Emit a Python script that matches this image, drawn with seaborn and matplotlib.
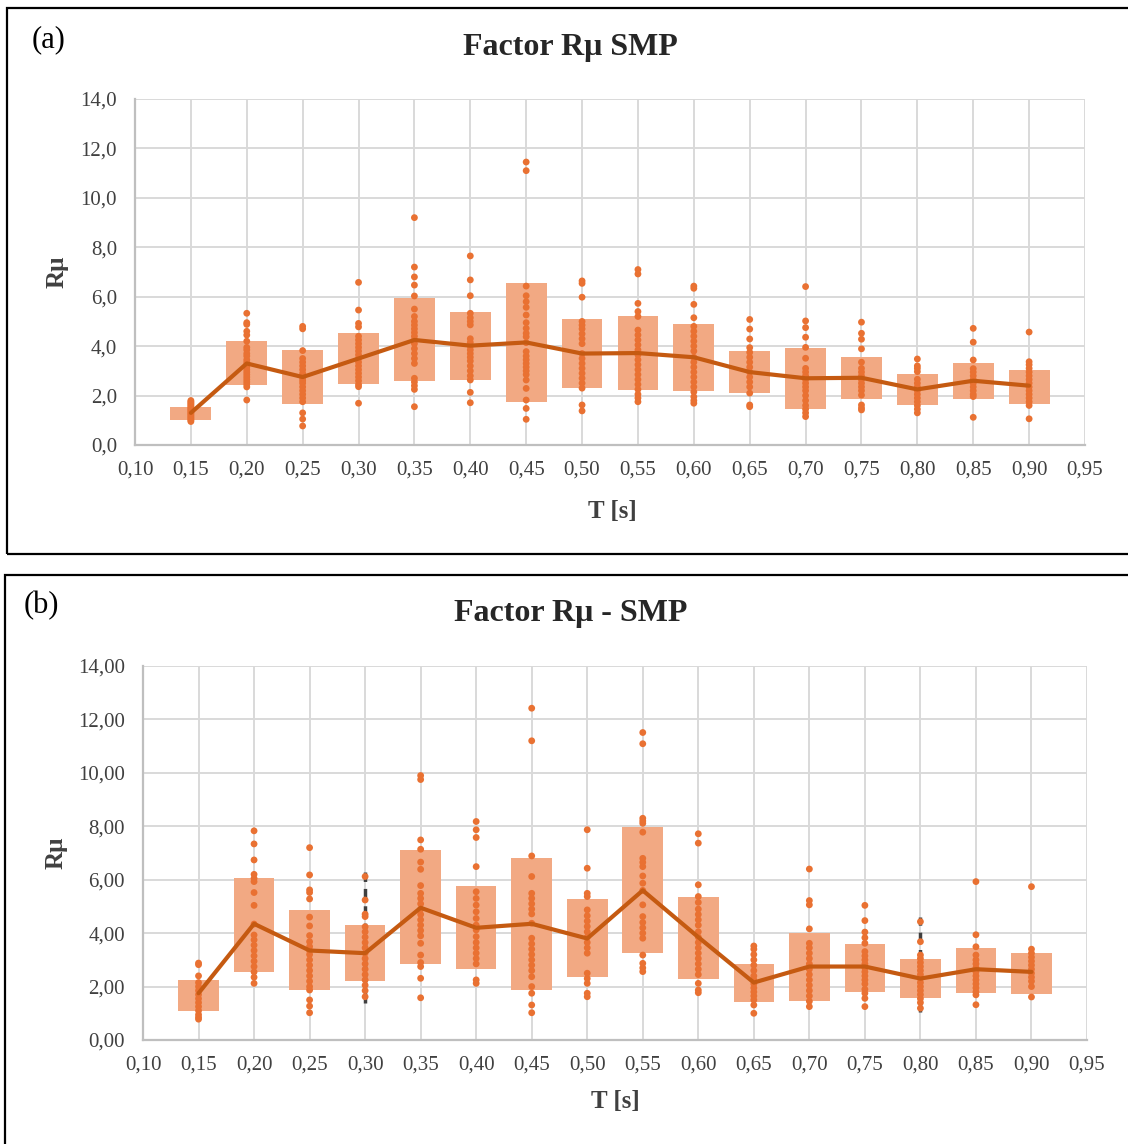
import numpy as np
import pandas as pd
import matplotlib
matplotlib.use("Agg")
import matplotlib.pyplot as plt
from matplotlib.patches import Rectangle
from matplotlib.ticker import FuncFormatter, MultipleLocator
import seaborn as sns

# DATA
T = [0.15, 0.20, 0.25, 0.30, 0.35, 0.40, 0.45, 0.50,
     0.55, 0.60, 0.65, 0.70, 0.75, 0.80, 0.85, 0.90]

# panel (a): mean line and box limits (mean -/+ std)
mean_a = [1.30, 3.30, 2.75, 3.50, 4.25, 4.02, 4.15, 3.70,
          3.72, 3.55, 2.95, 2.70, 2.72, 2.25, 2.60, 2.40]
lo_a = [1.01, 2.43, 1.66, 2.47, 2.60, 2.63, 1.74, 2.30,
        2.22, 2.20, 2.10, 1.46, 1.86, 1.60, 1.86, 1.66]
hi_a = [1.54, 4.20, 3.84, 4.53, 5.95, 5.38, 6.56, 5.10,
        5.22, 4.90, 3.80, 3.93, 3.56, 2.87, 3.32, 3.04]
points_a = [
    [1.80, 1.75, 1.70, 1.65, 1.60, 1.55, 1.50, 1.45, 1.40, 1.35, 1.30, 1.25, 1.20, 1.15, 1.10, 1.05, 1.00, 0.95],
    [5.33, 4.95, 4.88, 4.60, 4.45, 4.20, 3.95, 3.85, 3.70, 3.60, 3.45, 3.35, 3.25, 3.15, 3.05, 2.95, 2.85, 2.75, 2.65, 2.55, 2.45, 2.35, 1.82],
    [4.80, 4.70, 3.82, 3.50, 3.35, 3.20, 3.05, 2.90, 2.80, 2.70, 2.60, 2.50, 2.35, 2.20, 2.05, 1.90, 1.75, 1.30, 1.05, 0.77],
    [6.58, 5.46, 4.92, 4.78, 4.40, 4.25, 4.10, 3.95, 3.80, 3.65, 3.50, 3.35, 3.20, 3.05, 2.90, 2.75, 2.60, 2.45, 2.36, 1.69],
    [9.20, 7.20, 6.80, 6.47, 6.03, 5.50, 5.20, 5.00, 4.85, 4.70, 4.55, 4.40, 4.25, 4.10, 3.90, 3.70, 3.50, 3.30, 2.70, 2.55, 2.40, 2.25, 1.55],
    [7.65, 6.68, 6.04, 5.33, 5.15, 5.00, 4.86, 4.30, 4.15, 4.00, 3.85, 3.70, 3.55, 3.40, 3.20, 3.00, 2.80, 2.63, 2.13, 1.71],
    [11.45, 11.10, 6.43, 6.04, 5.80, 5.57, 5.26, 4.95, 4.72, 4.52, 4.38, 4.14, 3.78, 3.60, 3.45, 3.30, 3.15, 3.00, 2.85, 2.63, 2.29, 1.82, 1.48, 1.04],
    [6.64, 6.54, 5.98, 5.00, 4.85, 4.70, 4.50, 4.30, 4.10, 3.70, 3.50, 3.30, 3.10, 2.90, 2.70, 2.50, 2.30, 1.62, 1.38],
    [7.10, 6.92, 5.73, 5.40, 5.20, 4.65, 4.45, 4.25, 4.05, 3.85, 3.65, 3.45, 3.25, 3.05, 2.85, 2.65, 2.45, 2.25, 2.05, 1.90, 1.75],
    [6.43, 6.34, 5.69, 5.15, 4.80, 4.60, 4.40, 4.20, 4.00, 3.80, 3.55, 3.35, 3.15, 2.95, 2.75, 2.55, 2.35, 2.15, 1.95, 1.80, 1.69],
    [5.08, 4.69, 4.29, 3.94, 3.75, 3.55, 3.35, 3.15, 2.95, 2.75, 2.55, 2.35, 2.10, 1.62, 1.55],
    [6.41, 5.02, 4.75, 4.36, 3.95, 3.51, 3.10, 2.95, 2.80, 2.65, 2.50, 2.35, 2.20, 2.00, 1.80, 1.60, 1.45, 1.30, 1.15],
    [4.97, 4.52, 4.28, 3.89, 3.35, 3.10, 2.95, 2.80, 2.65, 2.50, 2.35, 2.20, 2.02, 1.62, 1.50, 1.42],
    [3.48, 3.20, 3.10, 2.97, 2.66, 2.50, 2.35, 2.20, 2.05, 1.90, 1.75, 1.60, 1.45, 1.30],
    [4.72, 4.16, 3.44, 3.09, 2.95, 2.80, 2.65, 2.50, 2.35, 2.20, 2.05, 1.96, 1.12],
    [4.57, 3.37, 3.25, 3.10, 2.95, 2.80, 2.65, 2.50, 2.35, 2.20, 2.05, 1.90, 1.75, 1.60, 1.06],
]

# panel (b)
mean_b = [1.75, 4.35, 3.35, 3.25, 4.95, 4.20, 4.35, 3.80,
          5.60, 3.85, 2.15, 2.75, 2.75, 2.30, 2.65, 2.55]
lo_b = [1.08, 2.54, 1.87, 2.20, 2.84, 2.65, 1.87, 2.35,
        3.25, 2.28, 1.42, 1.46, 1.79, 1.57, 1.75, 1.72]
hi_b = [2.24, 6.08, 4.85, 4.29, 7.13, 5.75, 6.83, 5.26,
        7.98, 5.37, 2.84, 4.00, 3.58, 3.02, 3.43, 3.25]
points_b = [
    [2.88, 2.82, 2.40, 2.15, 2.00, 1.85, 1.70, 1.55, 1.40, 1.25, 1.10, 0.95, 0.85, 0.78],
    [7.83, 7.34, 6.74, 6.20, 6.05, 5.93, 5.52, 5.04, 4.34, 3.93, 3.75, 3.55, 3.35, 3.15, 2.95, 2.75, 2.55, 2.35, 2.12],
    [7.20, 6.18, 5.62, 5.52, 5.28, 4.60, 4.27, 3.91, 3.68, 3.50, 3.35, 3.20, 3.00, 2.80, 2.60, 2.40, 2.20, 2.00, 1.87, 1.50, 1.27, 1.02],
    [6.12, 5.24, 4.71, 4.62, 4.24, 4.05, 3.85, 3.65, 3.45, 3.25, 3.05, 2.85, 2.65, 2.45, 2.25, 2.05, 1.85, 1.62],
    [9.90, 9.75, 7.49, 7.14, 6.66, 6.39, 5.78, 5.49, 5.30, 5.10, 4.90, 4.70, 4.50, 4.30, 4.10, 3.90, 3.62, 3.18, 2.90, 2.75, 2.31, 1.58],
    [8.18, 7.87, 7.58, 6.49, 5.55, 5.30, 5.05, 4.80, 4.55, 4.30, 4.12, 3.87, 3.65, 3.45, 3.25, 3.05, 2.85, 2.25, 2.12],
    [12.42, 11.20, 6.89, 6.12, 5.49, 5.30, 5.10, 4.90, 4.72, 4.37, 3.81, 3.60, 3.40, 3.20, 3.00, 2.80, 2.60, 2.37, 2.00, 1.75, 1.31, 1.02],
    [7.87, 6.43, 5.49, 5.37, 4.87, 4.65, 4.45, 4.25, 4.05, 3.85, 3.65, 3.45, 3.25, 2.50, 2.30, 2.12, 1.75, 1.62],
    [11.51, 11.09, 8.30, 8.20, 8.11, 7.78, 6.80, 6.65, 6.49, 6.14, 5.87, 5.60, 5.06, 4.62, 4.40, 4.20, 4.00, 3.81, 3.18, 2.87, 2.70, 2.56],
    [7.72, 7.37, 5.81, 5.37, 5.15, 4.90, 4.70, 4.50, 4.30, 4.05, 3.85, 3.65, 3.45, 3.25, 3.05, 2.85, 2.65, 2.45, 2.12, 1.87, 1.77],
    [3.52, 3.40, 3.20, 3.00, 2.80, 2.60, 2.40, 2.25, 2.10, 1.95, 1.80, 1.65, 1.50, 1.31, 1.00],
    [6.40, 5.22, 5.06, 4.16, 3.62, 3.45, 3.25, 3.05, 2.85, 2.65, 2.45, 2.25, 2.05, 1.85, 1.65, 1.45, 1.25],
    [5.04, 4.47, 4.04, 3.83, 3.62, 3.31, 3.15, 3.00, 2.85, 2.70, 2.55, 2.40, 2.25, 2.10, 1.90, 1.75, 1.56, 1.25],
    [4.43, 3.68, 3.18, 3.05, 2.90, 2.75, 2.60, 2.45, 2.30, 2.15, 2.00, 1.85, 1.70, 1.55, 1.40, 1.19],
    [5.93, 3.94, 3.49, 3.18, 3.00, 2.85, 2.70, 2.55, 2.40, 2.25, 2.10, 1.95, 1.80, 1.69, 1.32],
    [5.74, 3.40, 3.25, 3.10, 2.95, 2.80, 2.65, 2.50, 2.35, 2.20, 2.00, 1.61],
]
# dark dashed whiskers visible in panel (b)
err_b_T = [0.30, 0.80]
err_b_lo = [1.37, 1.06]
err_b_hi = [6.30, 4.62]

BOX_COLOR = "#F2A983"
DOT_COLOR = "#E97132"
LINE_COLOR = "#C55A11"
TEXT_COLOR = "#404040"

sns.set_style("white")
plt.rcParams['font.family'] = ['Liberation Serif', 'DejaVu Serif']


def long_form(points):
    rows = []
    for t, vals in zip(T, points):
        for v in vals:
            rows.append({'T': t, 'R': v})
    return pd.DataFrame(rows)


def draw_panel(ax, mean, lo, hi, points, ndec):
    ax.bar(T, np.array(hi) - np.array(lo), bottom=lo, width=0.0365,
           color=BOX_COLOR, edgecolor='none', zorder=2)
    sns.scatterplot(data=long_form(points), x='T', y='R', ax=ax, color=DOT_COLOR,
                    s=24, edgecolor='none', linewidth=0, zorder=4, legend=False)
    sns.lineplot(x=T, y=mean, ax=ax, color=LINE_COLOR, lw=3.0, zorder=5)
    ax.set_xlim(0.10, 0.95)
    ax.set_ylim(0, 14)
    ax.xaxis.set_major_locator(MultipleLocator(0.05))
    ax.yaxis.set_major_locator(MultipleLocator(2))
    ax.xaxis.set_major_formatter(FuncFormatter(lambda v, p: f"{v:.2f}".replace('.', ',')))
    ax.yaxis.set_major_formatter(FuncFormatter(lambda v, p: f"{v:.{ndec}f}".replace('.', ',')))
    ax.grid(True, color='#D9D9D9', lw=1.4, zorder=0)
    ax.set_axisbelow(True)
    for s in ['top', 'right']:
        ax.spines[s].set_visible(False)
    for s in ['left', 'bottom']:
        ax.spines[s].set_color('#BFBFBF')
        ax.spines[s].set_linewidth(1.6)
    ax.tick_params(axis='both', length=0, labelsize=15, colors=TEXT_COLOR)
    ax.tick_params(axis='x', pad=11)
    ax.tick_params(axis='y', pad=13)
    ax.set_xlabel('T [s]', fontsize=18, fontweight='bold', color=TEXT_COLOR)
    ax.set_ylabel('Rμ', fontsize=18, fontweight='bold', color=TEXT_COLOR)


fig = plt.figure(figsize=(11.28, 11.44), dpi=100)
W, H = 1128, 1144

# panel (a)
ax1 = fig.add_axes([135 / W, 1 - 445 / H, 950 / W, 346 / H])
draw_panel(ax1, mean_a, lo_a, hi_a, points_a, 1)
ax1.xaxis.set_label_coords(0.503, -0.16)
ax1.yaxis.set_label_coords(-0.07, 0.5)

# panel (b)
ax2 = fig.add_axes([143 / W, 1 - 1040 / H, 944 / W, 374 / H])
ax2.vlines(err_b_T, err_b_lo, err_b_hi, colors='#404040', linestyles=(0, (3, 2)),
           lw=2.5, zorder=3)
draw_panel(ax2, mean_b, lo_b, hi_b, points_b, 2)
ax2.xaxis.set_label_coords(0.5, -0.135)
ax2.yaxis.set_label_coords(-0.08, 0.5)

# titles and panel letters
fig.text(570 / W, 1 - 47 / H, 'Factor Rμ SMP', ha='center', va='center',
         fontsize=23, fontweight='bold', color='#262626')
fig.text(571 / W, 1 - 614 / H, 'Factor Rμ - SMP', ha='center', va='center',
         fontsize=23, fontweight='bold', color='#262626')
fig.text(32 / W, 1 - 40 / H, '(a)', ha='left', va='center', fontsize=22, color='black')
fig.text(24 / W, 1 - 606 / H, '(b)', ha='left', va='center', fontsize=22, color='black')

# black frames around each panel
fig.patches.append(Rectangle((7 / W, 1 - 554 / H), 1.2, 546 / H, transform=fig.transFigure,
                             fill=False, edgecolor='black', lw=1.6))
fig.patches.append(Rectangle((5 / W, -0.1), 1.2, 0.1 + (1 - 575 / H), transform=fig.transFigure,
                             fill=False, edgecolor='black', lw=1.6))

fig.savefig('out.png', dpi=100)
